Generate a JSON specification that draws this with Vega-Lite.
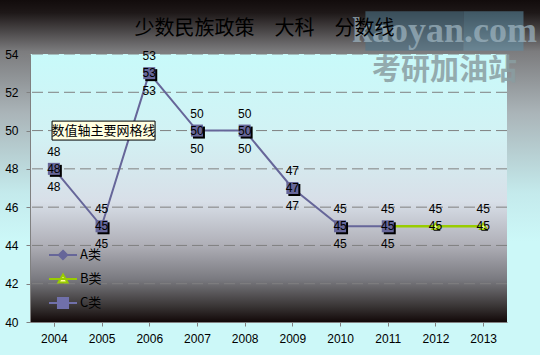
{
  "$schema": "https://vega.github.io/schema/vega-lite/v6.json",
  "width": 477,
  "height": 268,
  "autosize": {"type": "none"},
  "padding": {"left": 30, "top": 54, "right": 33, "bottom": 33},
  "background": "#ccf8f8",
  "title": {"text": "少数民族政策　大科　分数线", "font": "Noto Sans CJK SC", "fontSize": 20, "fontWeight": "normal", "color": "#000000", "anchor": "middle", "baseline": "middle", "dx": -4, "dy": 49, "offset": 0},
  "config": {
    "view": {"stroke": null},
    "axis": {"domainColor": "#808080", "tickColor": "#808080", "tickSize": 4, "labelFont": "Liberation Sans", "labelFontSize": 12, "labelColor": "#000000", "grid": false, "title": null},
    "axisY": {"tickCount": 7, "labelPadding": 8},
    "axisX": {"labelAngle": 0, "tickBand": "extent", "labelPadding": 7},
    "legend": {"padding": 0, "rowPadding": 6, "symbolSize": 196, "symbolStrokeWidth": 2, "labelFont": "Noto Sans CJK SC", "labelFontSize": 13, "labelColor": "#000000", "labelOffset": 9}
  },
  "datasets": {
    "pts": [
      {"year": "2004", "series": "A类", "value": 48},
      {"year": "2005", "series": "A类", "value": 45},
      {"year": "2006", "series": "A类", "value": 53},
      {"year": "2007", "series": "A类", "value": 50},
      {"year": "2008", "series": "A类", "value": 50},
      {"year": "2009", "series": "A类", "value": 47},
      {"year": "2010", "series": "A类", "value": 45},
      {"year": "2011", "series": "A类", "value": 45},
      {"year": "2011", "series": "B类", "value": 45},
      {"year": "2012", "series": "B类", "value": 45},
      {"year": "2013", "series": "B类", "value": 45},
      {"year": "2004", "series": "C类", "value": 48},
      {"year": "2005", "series": "C类", "value": 45},
      {"year": "2006", "series": "C类", "value": 53},
      {"year": "2007", "series": "C类", "value": 50},
      {"year": "2008", "series": "C类", "value": 50},
      {"year": "2009", "series": "C类", "value": 47},
      {"year": "2010", "series": "C类", "value": 45},
      {"year": "2011", "series": "C类", "value": 45}
    ],
    "bg": [{"outerTop": 56.82, "top": 54, "bottom": 40}],
    "grid": [{"g": 42}, {"g": 44}, {"g": 46}, {"g": 48}, {"g": 50}, {"g": 52}, {"g": 54}],
    "note": [{"year": "2005", "value": 50, "text": "数值轴主要网格线"}],
    "wm": [
      {"year": "2012", "value": 55.2, "text": "kaoyan.com", "kind": "logo"},
      {"year": "2012", "value": 53.1, "text": "考研加油站", "kind": "cn"}
    ]
  },
  "layer": [
    {
      "data": {"name": "bg"},
      "mark": {"type": "rect", "xOffset": -30, "x2Offset": 33, "fill": {"gradient": "linear", "x1": 0, "y1": 0, "x2": 0, "y2": 1, "stops": [
        {"offset": 0, "color": "#120c0c"},
        {"offset": 0.04, "color": "#1e1818"},
        {"offset": 0.16, "color": "#7c7c7e"},
        {"offset": 0.35, "color": "#aab4b8"},
        {"offset": 0.6, "color": "#c4eaec"},
        {"offset": 0.75, "color": "#ccf8f8"},
        {"offset": 1, "color": "#ccf8f8"}
      ]}},
      "encoding": {
        "x": {"value": 0},
        "x2": {"value": "width"},
        "y": {"field": "outerTop", "type": "quantitative", "scale": {"domain": [40, 54], "nice": false, "zero": false}, "axis": {"zindex": 2}},
        "y2": {"field": "bottom"}
      }
    },
    {
      "data": {"name": "bg"},
      "mark": {"type": "rect", "fill": {"gradient": "linear", "x1": 0, "y1": 0, "x2": 0, "y2": 1, "stops": [
        {"offset": 0, "color": "#c8fafa"},
        {"offset": 0.3, "color": "#d2f2f4"},
        {"offset": 0.55, "color": "#d8dfe8"},
        {"offset": 0.71, "color": "#b0b0b8"},
        {"offset": 0.84, "color": "#7a7a80"},
        {"offset": 0.94, "color": "#3a3636"},
        {"offset": 1, "color": "#120808"}
      ]}},
      "encoding": {
        "y": {"field": "top", "type": "quantitative", "axis": {"zindex": 2}},
        "y2": {"field": "bottom"}
      }
    },
    {
      "data": {"name": "grid"},
      "mark": {"type": "rule", "color": "#808080", "strokeDash": [11, 5], "strokeWidth": 1},
      "encoding": {"y": {"field": "g", "type": "quantitative", "axis": {"zindex": 2}}}
    },
    {
      "data": {"name": "wm"},
      "transform": [{"filter": "datum.kind === 'logo'"}],
      "mark": {"type": "point", "shape": "M-1,-0.25H0.24V0.25H-1Z", "filled": true, "color": "#4f7488", "opacity": 0.6, "size": 25000, "xOffset": 9},
      "encoding": {
        "x": {"field": "year", "type": "ordinal"},
        "y": {"field": "value", "type": "quantitative"}
      }
    },
    {
      "data": {"name": "wm"},
      "transform": [{"filter": "datum.kind === 'logo'"}],
      "mark": {"type": "point", "shape": "M0.24,-0.25H1V0.25H0.24Z", "filled": true, "color": "#5f8fa8", "opacity": 0.55, "size": 25000, "xOffset": 9},
      "encoding": {
        "x": {"field": "year", "type": "ordinal"},
        "y": {"field": "value", "type": "quantitative"}
      }
    },
    {
      "data": {"name": "wm"},
      "transform": [{"filter": "datum.kind === 'logo'"}],
      "mark": {"type": "text", "font": "Liberation Sans Narrow", "fontWeight": "bold", "fontSize": 36, "color": "#9ab0bc", "opacity": 0.75, "dx": 9, "baseline": "middle"},
      "encoding": {
        "x": {"field": "year", "type": "ordinal"},
        "y": {"field": "value", "type": "quantitative"},
        "text": {"field": "text", "type": "nominal"}
      }
    },
    {
      "data": {"name": "wm"},
      "transform": [{"filter": "datum.kind === 'cn'"}],
      "mark": {"type": "text", "font": "Noto Sans CJK SC", "fontWeight": "bold", "fontSize": 29, "color": "#8a9ea2", "opacity": 0.85, "dx": 9, "baseline": "middle"},
      "encoding": {
        "x": {"field": "year", "type": "ordinal"},
        "y": {"field": "value", "type": "quantitative"},
        "text": {"field": "text", "type": "nominal"}
      }
    },
    {
      "data": {"name": "pts"},
      "transform": [{"filter": "datum.series === 'A类'"}],
      "mark": {"type": "line", "color": "#666699", "strokeWidth": 2},
      "encoding": {
        "x": {"field": "year", "type": "ordinal", "scale": {"domain": ["2004", "2005", "2006", "2007", "2008", "2009", "2010", "2011", "2012", "2013"], "paddingInner": 0, "paddingOuter": 0}, "axis": {"zindex": 2}},
        "y": {"field": "value", "type": "quantitative", "axis": {"zindex": 2}}
      }
    },
    {
      "data": {"name": "pts"},
      "transform": [{"filter": "datum.series === 'B类'"}],
      "mark": {"type": "line", "color": "#99cc00", "strokeWidth": 2.5},
      "encoding": {
        "x": {"field": "year", "type": "ordinal"},
        "y": {"field": "value", "type": "quantitative"}
      }
    },
    {
      "data": {"name": "pts"},
      "transform": [{"filter": "datum.series === 'A类'"}],
      "mark": {"type": "point", "shape": "diamond", "filled": true, "color": "#666699", "opacity": 1, "size": 60},
      "encoding": {
        "x": {"field": "year", "type": "ordinal"},
        "y": {"field": "value", "type": "quantitative"}
      }
    },
    {
      "data": {"name": "pts"},
      "transform": [{"filter": "datum.series === 'B类'"}],
      "mark": {"type": "point", "shape": "triangle-up", "filled": true, "color": "#000000", "opacity": 1, "size": 50, "xOffset": 1.5, "yOffset": 1.5},
      "encoding": {
        "x": {"field": "year", "type": "ordinal"},
        "y": {"field": "value", "type": "quantitative"}
      }
    },
    {
      "data": {"name": "pts"},
      "transform": [{"filter": "datum.series === 'B类'"}],
      "mark": {"type": "point", "shape": "triangle-up", "filled": true, "fill": "#ffff99", "stroke": "#99cc00", "strokeWidth": 1.5, "opacity": 1, "size": 50},
      "encoding": {
        "x": {"field": "year", "type": "ordinal"},
        "y": {"field": "value", "type": "quantitative"}
      }
    },
    {
      "data": {"name": "pts"},
      "transform": [{"filter": "datum.series === 'C类'"}],
      "mark": {"type": "point", "shape": "square", "filled": true, "color": "#000000", "opacity": 1, "size": 144, "xOffset": 2, "yOffset": 2},
      "encoding": {
        "x": {"field": "year", "type": "ordinal"},
        "y": {"field": "value", "type": "quantitative"}
      }
    },
    {
      "data": {"name": "pts"},
      "transform": [{"filter": "datum.series === 'C类'"}],
      "mark": {"type": "point", "shape": "square", "filled": true, "color": "#666699", "opacity": 1, "size": 144},
      "encoding": {
        "x": {"field": "year", "type": "ordinal"},
        "y": {"field": "value", "type": "quantitative"}
      }
    },
    {
      "data": {"name": "pts"},
      "transform": [{"filter": "datum.series === 'A类' || (datum.series === 'B类' && datum.year !== '2011')"}],
      "mark": {"type": "text", "font": "Liberation Sans", "fontSize": 12, "color": "#000000", "dy": -17, "baseline": "middle"},
      "encoding": {
        "x": {"field": "year", "type": "ordinal"},
        "y": {"field": "value", "type": "quantitative"},
        "text": {"field": "value", "type": "quantitative"}
      }
    },
    {
      "data": {"name": "pts"},
      "transform": [{"filter": "datum.series === 'C类' || (datum.series === 'B类' && datum.year !== '2011')"}],
      "mark": {"type": "text", "font": "Liberation Sans", "fontSize": 12, "color": "#000000", "dy": 0, "baseline": "middle"},
      "encoding": {
        "x": {"field": "year", "type": "ordinal"},
        "y": {"field": "value", "type": "quantitative"},
        "text": {"field": "value", "type": "quantitative"}
      }
    },
    {
      "data": {"name": "pts"},
      "transform": [{"filter": "datum.series === 'A类'"}],
      "mark": {"type": "text", "font": "Liberation Sans", "fontSize": 12, "color": "#000000", "dy": 18, "baseline": "middle"},
      "encoding": {
        "x": {"field": "year", "type": "ordinal"},
        "y": {"field": "value", "type": "quantitative"},
        "text": {"field": "value", "type": "quantitative"}
      }
    },
    {
      "data": {"name": "note"},
      "mark": {"type": "point", "shape": "M-1,-0.184H1V0.184H-1Z", "filled": true, "fill": "#ffffe1", "stroke": "#000000", "strokeWidth": 1, "opacity": 1, "size": 10609, "xOffset": 2},
      "encoding": {
        "x": {"field": "year", "type": "ordinal"},
        "y": {"field": "value", "type": "quantitative"}
      }
    },
    {
      "data": {"name": "note"},
      "mark": {"type": "text", "font": "Noto Sans CJK SC", "fontSize": 13, "color": "#000000", "dx": 2, "baseline": "middle"},
      "encoding": {
        "x": {"field": "year", "type": "ordinal"},
        "y": {"field": "value", "type": "quantitative"},
        "text": {"field": "text", "type": "nominal"}
      }
    },
    {
      "data": {"name": "pts"},
      "transform": [{"filter": "false"}],
      "mark": {"type": "point", "filled": true, "opacity": 1},
      "encoding": {
        "shape": {"field": "series", "type": "nominal", "scale": {"domain": ["A类", "B类", "C类"], "range": ["M-2,0H2M0,-0.6L0.6,0L0,0.6L-0.6,0Z", "M-2,0H2M0,-0.65L0.65,0.5L-0.65,0.5Z", "M-2,0H2M-0.72,-0.72H0.72V0.72H-0.72Z"]}, "legend": {"title": null, "orient": "none", "legendX": 25, "legendY": 193}},
        "stroke": {"field": "series", "type": "nominal", "scale": {"domain": ["A类", "B类", "C类"], "range": ["#666699", "#99cc00", "#7070aa"]}, "legend": {"title": null, "orient": "none", "legendX": 25, "legendY": 193}},
        "fill": {"field": "series", "type": "nominal", "scale": {"domain": ["A类", "B类", "C类"], "range": ["#666699", "#ffff99", "#7070aa"]}, "legend": {"title": null, "orient": "none", "legendX": 25, "legendY": 193}}
      }
    }
  ]
}
